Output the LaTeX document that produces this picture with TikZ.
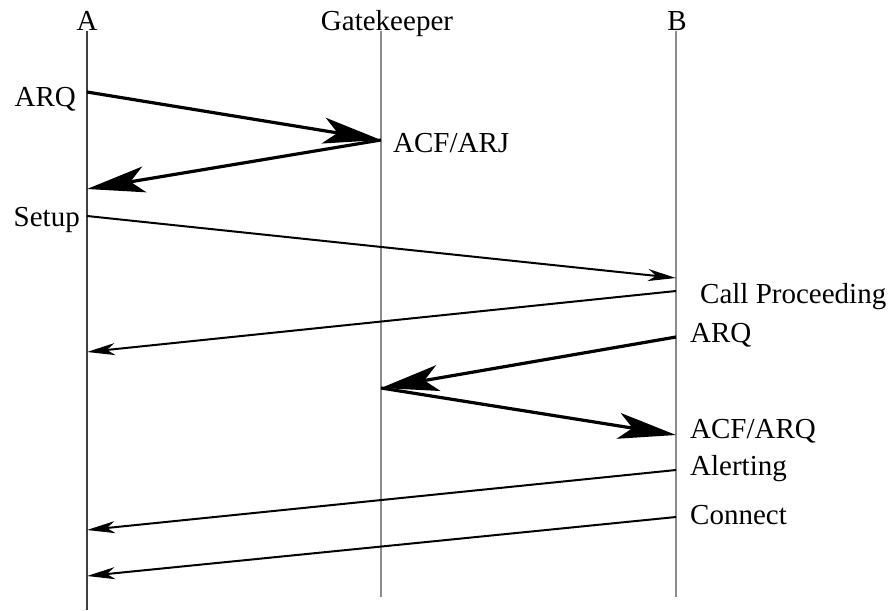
\documentclass[tikz,border=0pt]{standalone}
\usepackage{fontspec}
\setmainfont{Liberation Serif}
\usetikzlibrary{arrows.meta,positioning}

\begin{document}
\begin{tikzpicture}[x=1pt, y=-1pt,
        head/.style={font=\fontsize{29}{32}\selectfont, inner sep=0pt, anchor=base},
        lbl/.style={font=\fontsize{29}{32}\selectfont, inner sep=0pt},
        life/.style={line width=2.6pt, draw=black!45},
        bigmsg/.style={line width=3.2pt, -{Stealth[length=58pt, width=26pt, inset=14pt]}},
        thinmsg/.style={line width=2pt, -{Stealth[length=28pt, width=12pt, inset=8pt]}}
    ]
        \useasboundingbox (0,0) rectangle (893,610);

        % heads of the lifelines
        \node[head] (A) at (87,31) {A};
        \node[head] (GK) at (387,31) {Gatekeeper};
        \node[head] (B) at (677,31) {B};

        \coordinate (Aend) at (87,610);
        \coordinate (Gend) at (381,597);
        \coordinate (Bend) at (676,597);

        \draw[life, draw=black!75] (A.base) -- (Aend);
        \draw[life] (Gend |- GK.base) -- (Gend);
        \draw[life] (Bend |- B.base) -- (Bend);

        % points on the lifelines
        \coordinate (a1) at (87,92);
        \coordinate (g1) at (381,140);
        \coordinate (a2) at (87,189);
        \coordinate (a3) at (87,216);
        \coordinate (b3) at (676,278);
        \coordinate (b4) at (676,291);
        \coordinate (a4) at (87,352);
        \coordinate (b5) at (676,337);
        \coordinate (g5) at (381,388);
        \coordinate (b6) at (676,435);
        \coordinate (b7) at (676,470);
        \coordinate (a7) at (87,530);
        \coordinate (b8) at (676,517);
        \coordinate (a8) at (87,576);

        % messages
        \draw[bigmsg] (a1) -- (g1);
        \draw[bigmsg] (g1) -- (a2);
        \draw[thinmsg] (a3) -- (b3);
        \draw[thinmsg] (b4) -- (a4);
        \draw[bigmsg] (b5) -- (g5);
        \draw[bigmsg] (g5) -- (b6);
        \draw[thinmsg] (b7) -- (a7);
        \draw[thinmsg] (b8) -- (a8);

        % labels
        \node[lbl, anchor=base east] (arqA) at (76,106) {ARQ};
        \node[lbl, anchor=base west] (acfG) at (393,152) {ACF/ARJ};
        \node[lbl, anchor=base east] (setup) at (80,226) {Setup};
        \node[lbl, anchor=base west] (callp) at (700,303) {Call Proceeding};
        \node[lbl, anchor=base west] (arqB) at (690,342) {ARQ};
        \node[lbl, anchor=base west] (acfB) at (690,438) {ACF/ARQ};
        \node[lbl, anchor=base west] (alert) at (690,475) {Alerting};
        \node[lbl, anchor=base west] (conn) at (690,524) {Connect};
    \end{tikzpicture}
\end{document}
